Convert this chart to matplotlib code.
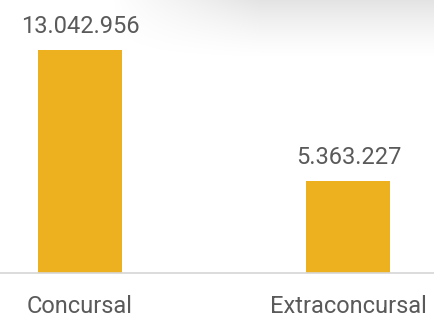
import numpy as np
import matplotlib.pyplot as plt

categories = ['Concursal', 'Extraconcursal']
values = [13042956, 5363227]
value_labels = ['13.042.956', '5.363.227']

plt.rcParams['font.family'] = ['Roboto', 'DejaVu Sans']
text_color = '#5a5a5a'
bar_color = '#EDB120'

fig = plt.figure(figsize=(4.34, 3.15), dpi=100)

# faint shadow at the top right
bg = fig.add_axes([0, 0, 1, 1], zorder=0)
bg.axis('off')
gx = np.linspace(0, 1, 434)
gy = np.linspace(0, 1, 315)
GX, GY = np.meshgrid(gx, gy)
fade_y = np.clip(1 - GY / 0.2, 0, 1) ** 1.5
fade_x = np.clip((GX - 0.25) / 0.35, 0, 1)
alpha = 0.11 * fade_y * fade_x
img = np.zeros((315, 434, 4))
img[..., 3] = alpha
bg.imshow(img, extent=[0, 1, 0, 1], aspect='auto', origin='upper')
bg.set_xlim(0, 1)
bg.set_ylim(0, 1)

ax = fig.add_axes([0, 42 / 315, 1, 273 / 315], zorder=1)
ax.patch.set_alpha(0)
x = np.arange(len(categories))
bars = ax.bar(x, values, width=84 / 268.5, color=bar_color)

ax.set_xlim(-80 / 268.5, -80 / 268.5 + 434 / 268.5)
ax.set_ylim(0, values[0] * 273 / 223)

for rect, lab in zip(bars, value_labels):
    ax.annotate(lab, (rect.get_x() + rect.get_width() / 2, rect.get_height()),
                xytext=(0, 12.5), textcoords='offset points',
                ha='center', va='baseline', fontsize=17, color=text_color)

ax.set_xticks(x)
ax.set_xticklabels(categories, fontsize=17, color=text_color, va='baseline')
ax.tick_params(axis='x', length=0, pad=28.5)
ax.set_yticks([])
for s in ['top', 'right', 'left']:
    ax.spines[s].set_visible(False)
ax.spines['bottom'].set_color('#d6d6d6')
ax.spines['bottom'].set_linewidth(1.2)

fig.savefig('out.png', dpi=100)
